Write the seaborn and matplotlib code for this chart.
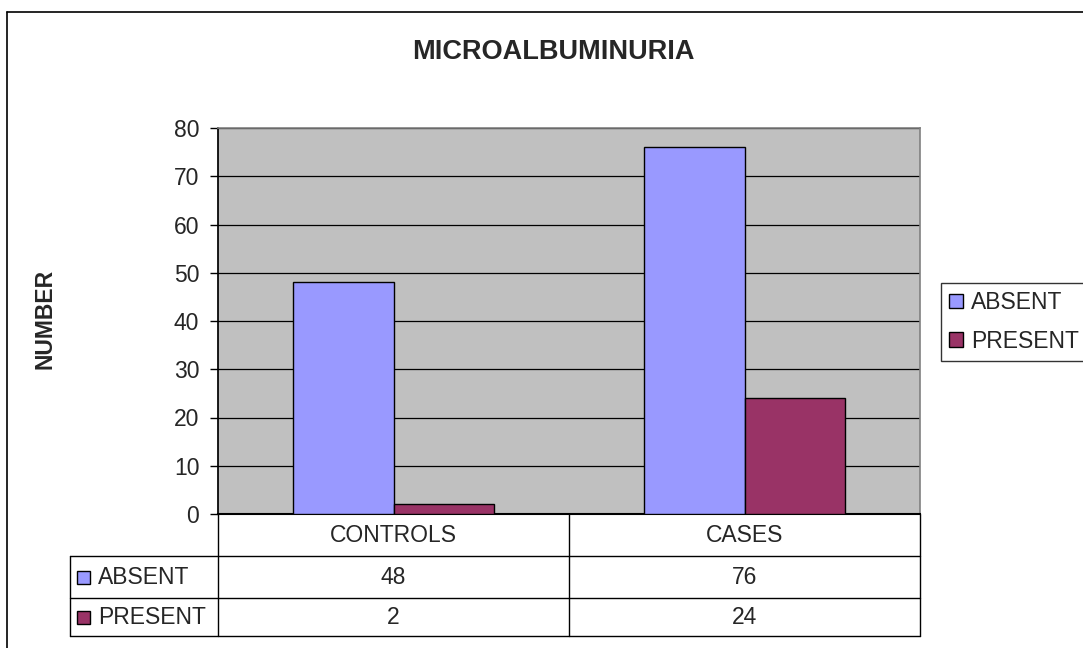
import matplotlib
matplotlib.use("Agg")
import matplotlib.pyplot as plt
import seaborn as sns
import pandas as pd
from matplotlib.patches import Rectangle
from matplotlib.lines import Line2D

categories = ["CONTROLS", "CASES"]
series = ["ABSENT", "PRESENT"]
absent = [48, 76]
present = [2, 24]
yticks = [0, 10, 20, 30, 40, 50, 60, 70, 80]
colors = ["#9999FF", "#993366"]

sns.set_theme(style="white")
plt.rcParams["font.family"] = ["Liberation Sans", "DejaVu Sans"]

FS = 16.5
W, H = 1083, 648
fig = plt.figure(figsize=(W / 100, H / 100), dpi=100)

def fx(x):
    return x / W

def fy(y):
    return 1 - y / H

L, R, T, B = 218, 920, 128, 514
ax = fig.add_axes([fx(L), fy(B), (R - L) / W, (B - T) / H])

df = pd.DataFrame({
    "category": categories * 2,
    "series": [series[0]] * 2 + [series[1]] * 2,
    "value": absent + present,
})
sns.barplot(data=df, x="category", y="value", hue="series", order=categories,
            hue_order=series, palette=colors, width=0.57, gap=0,
            edgecolor="black", linewidth=1, saturation=1, ax=ax, legend=False, zorder=3)

ax.set_facecolor("#C0C0C0")
ax.set_xlim(-0.5, 1.5)
ax.set_ylim(0, 80)
ax.set_yticks(yticks)
ax.set_yticklabels([str(v) for v in yticks], fontsize=FS)
ax.set_xticks([])
ax.set_xlabel("")
ax.set_ylabel("")
ax.yaxis.grid(True, color="black", linewidth=0.9, zorder=0)
ax.set_axisbelow(True)
ax.tick_params(axis="y", direction="out", length=5.5, width=1, color="black", pad=8, left=True)
for s in ["top", "right"]:
    ax.spines[s].set_color("#808080")
    ax.spines[s].set_linewidth(1.2)
ax.spines["left"].set_color("black")
ax.spines["bottom"].set_color("black")
ax.spines["bottom"].set_linewidth(1.5)

# Title and y label
fig.text(fx(553), fy(52), "MICROALBUMINURIA", ha="center", va="center",
         fontsize=19.5, fontweight="bold")
fig.text(fx(45), fy(319), "NUMBER", ha="center", va="center", rotation=90,
         fontsize=FS, fontweight="bold")

# Data table
rows_y = [514, 556, 598, 636]
tab_left = 70
mid = (L + R) / 2
line_kw = dict(color="black", linewidth=1)
for yy in rows_y[1:]:
    fig.add_artist(Line2D([fx(tab_left), fx(R)], [fy(yy), fy(yy)], **line_kw))
fig.add_artist(Line2D([fx(L), fx(L)], [fy(514), fy(636)], **line_kw))
fig.add_artist(Line2D([fx(R), fx(R)], [fy(514), fy(636)], **line_kw))
fig.add_artist(Line2D([fx(mid), fx(mid)], [fy(514), fy(636)], **line_kw))
fig.add_artist(Line2D([fx(tab_left), fx(tab_left)], [fy(556), fy(636)], **line_kw))

centers = [L + (R - L) * 0.25, L + (R - L) * 0.75]
for cx, cat in zip(centers, categories):
    fig.text(fx(cx), fy(535), cat, ha="center", va="center", fontsize=FS)
row_vals = [absent, present]
for i, (name, vals, col) in enumerate(zip(series, row_vals, colors)):
    yc = (rows_y[i + 1] + rows_y[i + 2]) / 2
    fig.add_artist(Rectangle((fx(77), fy(yc + 6.5)), 13 / W, 13 / H,
                             facecolor=col, edgecolor="black", linewidth=1,
                             transform=fig.transFigure))
    fig.text(fx(98), fy(yc), name, ha="left", va="center", fontsize=FS)
    for cx, v in zip(centers, vals):
        fig.text(fx(cx), fy(yc), str(v), ha="center", va="center", fontsize=FS)

# Legend
leg_handles = [Rectangle((0, 0), 1, 1, facecolor=c, edgecolor="black", linewidth=1)
               for c in colors]
leg = fig.legend(leg_handles, series, loc="upper left",
                 bbox_to_anchor=(fx(941), fy(283)), fontsize=FS, frameon=True,
                 fancybox=False, handlelength=0.6, handleheight=0.6,
                 handletextpad=0.35, borderpad=0.35, labelspacing=0.68,
                 borderaxespad=0)
leg.get_frame().set_edgecolor("black")
leg.get_frame().set_linewidth(1)

# Outer chart border (partially visible)
fig.add_artist(Line2D([fx(7), fx(7)], [fy(12), fy(660)], color="black", linewidth=1.2))
fig.add_artist(Line2D([fx(7), fx(1100)], [fy(12), fy(12)], color="black", linewidth=1.2))

fig.savefig("out.png", dpi=100)
